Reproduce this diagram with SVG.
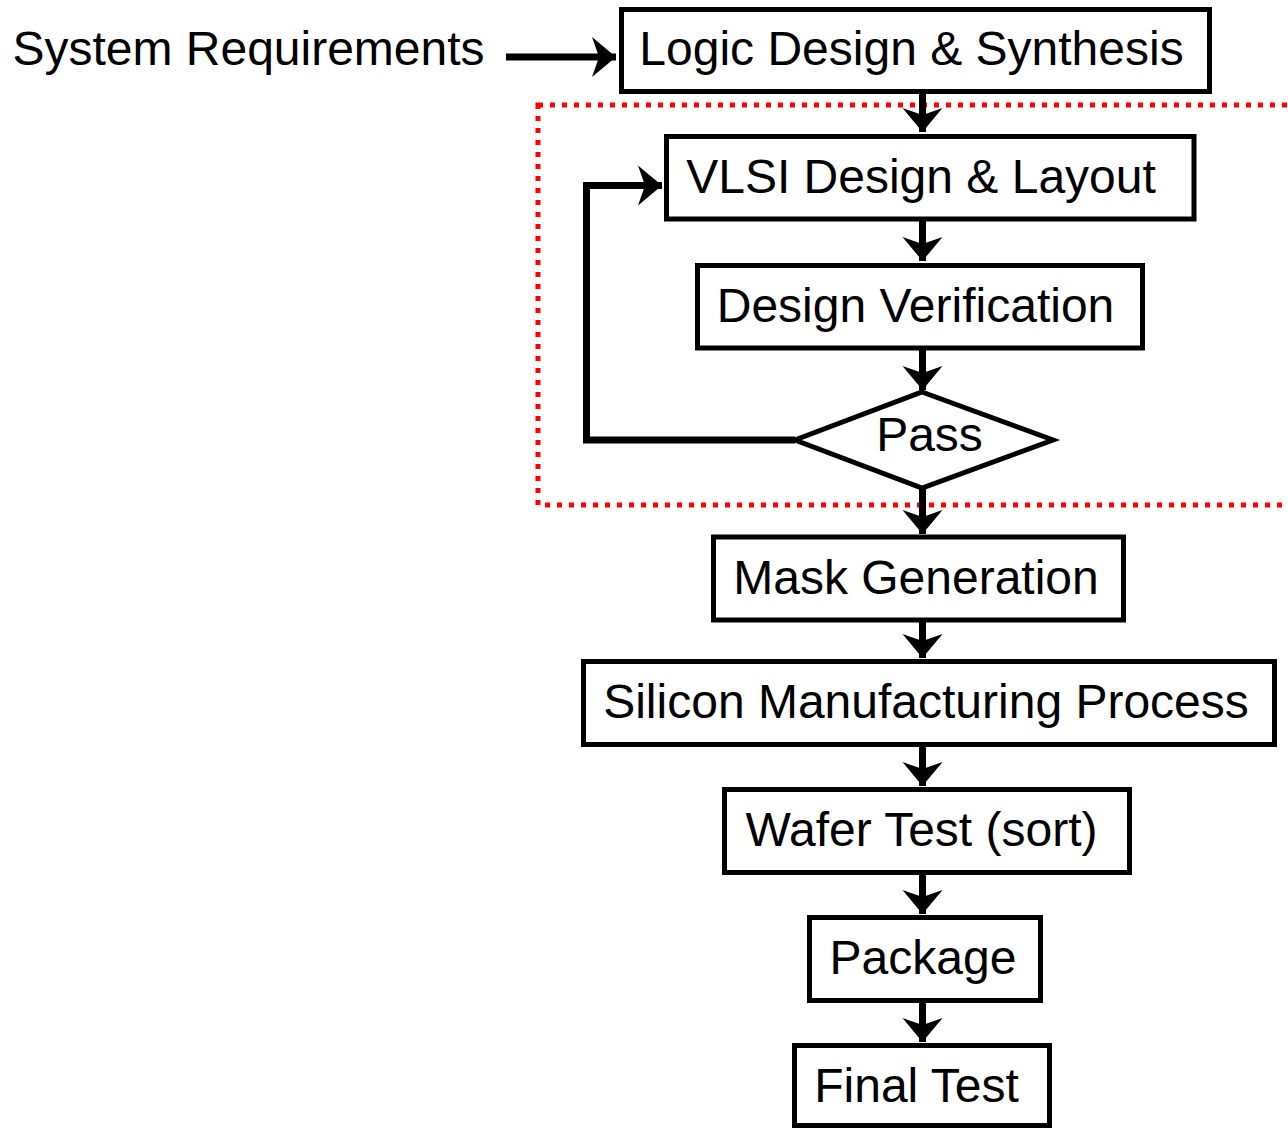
<svg xmlns="http://www.w3.org/2000/svg" width="1288" height="1128" viewBox="0 0 1288 1128">
<style>
.box{fill:#fff;stroke:#000;stroke-width:5}
.lbl{font-family:"Liberation Sans",Arial,sans-serif;font-size:48px;fill:#000;text-anchor:middle}
.con{fill:none;stroke:#000;stroke-width:7}
.region{fill:none;stroke:#ff0000;stroke-width:5;stroke-dasharray:5 7}
</style>
<defs>
<marker id="ah" markerUnits="userSpaceOnUse" markerWidth="30" markerHeight="44" viewBox="-26 -22 30 44" refX="0" refY="0" orient="auto">
<path d="M0,0 L-24,-20 L-17,0 L-24,20 Z" fill="#000"/>
</marker>
</defs>
<rect id="region" class="region" x="538" y="105" width="760" height="400"/>
<g id="connectors">
<line class="con" x1="506" y1="57" x2="616" y2="57" marker-end="url(#ah)"/>
<line class="con" x1="922.5" y1="92" x2="922.5" y2="132" marker-end="url(#ah)"/>
<line class="con" x1="922.5" y1="219" x2="922.5" y2="261" marker-end="url(#ah)"/>
<line class="con" x1="922.5" y1="348" x2="922.5" y2="390" marker-end="url(#ah)"/>
<polyline class="con" points="795,440 586.5,440 586.5,185.5 662,185.5" marker-end="url(#ah)"/>
<line class="con" x1="922.5" y1="488" x2="922.5" y2="534" marker-end="url(#ah)"/>
<line class="con" x1="922.5" y1="620" x2="922.5" y2="658" marker-end="url(#ah)"/>
<line class="con" x1="922.5" y1="745" x2="922.5" y2="786" marker-end="url(#ah)"/>
<line class="con" x1="922.5" y1="873" x2="922.5" y2="914" marker-end="url(#ah)"/>
<line class="con" x1="922.5" y1="1000" x2="922.5" y2="1042" marker-end="url(#ah)"/>
</g>
<g id="sysreq"><text class="lbl" x="248.5" y="65">System Requirements</text></g>
<g id="logic"><rect class="box" x="621.5" y="9.5" width="588" height="82"/><text class="lbl" x="911.5" y="65">Logic Design &amp; Synthesis</text></g>
<g id="vlsi"><rect class="box" x="666.5" y="136.5" width="527.5" height="82.5"/><text class="lbl" x="921" y="193">VLSI Design &amp; Layout</text></g>
<g id="verif"><rect class="box" x="697.5" y="265.5" width="445" height="82.5"/><text class="lbl" x="915.5" y="322">Design Verification</text></g>
<g id="pass"><polygon points="922,392 1053,440 922,488 795,440" fill="#fff" stroke="#000" stroke-width="5"/><text class="lbl" x="929.5" y="451">Pass</text></g>
<g id="mask"><rect class="box" x="713.5" y="537" width="410" height="83"/><text class="lbl" x="916" y="594">Mask Generation</text></g>
<g id="silicon"><rect class="box" x="583.5" y="661.5" width="691" height="83"/><text class="lbl" x="926" y="718">Silicon Manufacturing Process</text></g>
<g id="wafer"><rect class="box" x="724.5" y="789.5" width="405" height="83"/><text class="lbl" x="921.5" y="846">Wafer Test (sort)</text></g>
<g id="package"><rect class="box" x="809.5" y="917.5" width="231" height="83"/><text class="lbl" x="923" y="974">Package</text></g>
<g id="final"><rect class="box" x="794.5" y="1045.5" width="255" height="80"/><text class="lbl" x="916.5" y="1102">Final Test</text></g>
</svg>
